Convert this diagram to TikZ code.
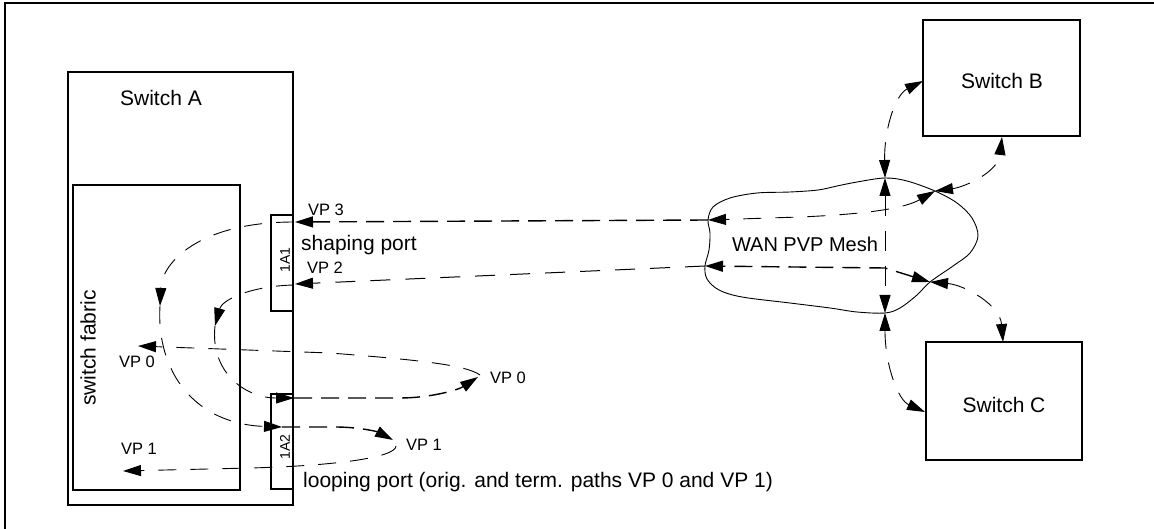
\documentclass[tikz,border=0pt]{standalone}
\usepackage{fontspec}
\setmainfont{Liberation Sans}
\usetikzlibrary{arrows.meta}
\begin{document}
\begin{tikzpicture}[x=1pt,y=-1pt,
  box/.style={draw,line width=1.4pt,inner sep=0pt,outer sep=0pt},
  lbl/.style={font=\fontsize{21}{24}\selectfont,inner sep=0pt},
  vplbl/.style={font=\fontsize{16.5}{19}\selectfont,inner sep=0pt},
  portlbl/.style={font=\fontsize{14}{16}\selectfont,inner sep=0pt,rotate=90},
  tipend/.style={-{Triangle[length=18pt,width=11pt]}},
  tipboth/.style={{Triangle[length=18pt,width=11pt]}-{Triangle[length=18pt,width=11pt]}},
  lightdash/.style={dash pattern=on 18pt off 14pt,line width=0.9pt},
  heavydash/.style={dash pattern=on 18pt off 9pt,line width=1.4pt},
  middash/.style={dash pattern=on 20pt off 15pt,line width=1pt},
]
\useasboundingbox (0,0) rectangle (1154,529);
% outer frame (only top and left visible)
\draw[line width=1.3pt] (5,529) -- (5,3) -- (1154,3);

% boxes
\node[box,anchor=north west,minimum width=225pt,minimum height=433pt] (swA) at (68,72) {};
\node[box,anchor=north west,minimum width=167pt,minimum height=305pt] (fab) at (73,185) {};
\node[box,anchor=north west,minimum width=22pt,minimum height=96pt] (p1) at (271,215) {};
\node[box,anchor=north west,minimum width=22pt,minimum height=95pt] (p2) at (271,394) {};
\node[box,anchor=north west,minimum width=157pt,minimum height=116pt] (swB) at (923,20) {};
\node[box,anchor=north west,minimum width=156pt,minimum height=118pt] (swC) at (926,342) {};

% texts
\node[lbl] (tA) at (161,98) {Switch A};
\node[lbl,rotate=90] (tfab) at (88,348) {switch fabric};
\node[portlbl] (t1A1) at (285,260) {1A1};
\node[portlbl] (t1A2) at (285,447) {1A2};
\node[lbl,anchor=west] (tshape) at (301,245) {shaping port};
\node[lbl,anchor=west] (tloop) at (303,482) {looping port (orig. and term. paths VP 0 and VP 1)};
\node[vplbl] (tvp3) at (326,210) {VP 3};
\node[vplbl] (tvp2) at (325,268) {VP 2};
\node[vplbl] (tvp0l) at (137,362) {VP 0};
\node[vplbl] (tvp0r) at (508,378) {VP 0};
\node[vplbl] (tvp1l) at (139,449) {VP 1};
\node[vplbl] (tvp1r) at (424,445) {VP 1};
\node[lbl,font=\fontsize{20}{23}\selectfont] (twan) at (805,244) {WAN PVP Mesh};
\node[lbl] (tB) at (1002,81) {Switch B};
\node[lbl] (tC) at (1004,405) {Switch C};

% cloud key points
\coordinate (cT) at (885,178);
\coordinate (cB) at (885,313);
\coordinate (cL3) at (708,220);
\coordinate (cL2) at (705,266);
\coordinate (cR3) at (935,191);
\coordinate (cR2) at (930,282);
\coordinate (cJ) at (885,268);

\draw[line width=0.9pt] plot[smooth cycle,tension=0.55] coordinates {
 (885,178) (907,181) (935,191) (957,203) (972,218) (978,236) (970,253)
 (953,266) (930,282) (917,295) (900,308) (885,313) (857,312) (830,308)
 (790,303) (742,297) (719,290) (707,279) (705,266) (709,250) (710,233)
 (708,220) (713,207) (730,198) (757,193) (790,192) (818,190) (837,186) (857,182)};

% endpoints on switches / ports
\coordinate (sBL) at (923,81);
\coordinate (sBB) at (1002,137);
\coordinate (sCT) at (1003,342);
\coordinate (sCL) at (925,412);
\coordinate (vp3tip) at (295,222);
\coordinate (vp2tip) at (295,284);

% WAN side connectors
\draw[lightdash,tipboth] (cT) .. controls (884,130) and (895,95) .. (sBL);
\draw[lightdash,tipboth] (cR3) .. controls (965,187) and (998,172) .. (sBB);
\draw[lightdash,tipboth] (cR2) .. controls (965,285) and (1000,305) .. (sCT);
\draw[lightdash,tipboth] (cB) .. controls (885,365) and (898,400) .. (sCL);
\draw[middash,tipboth] (cT) -- (cB);
\draw[lightdash,tipboth] (cR3) .. controls (905,208) and (870,214) .. (800,217) -- (cL3);
\draw[heavydash,tipboth] (cR2) -- (cJ) -- (cL2);
\draw[heavydash,tipend] (cL3) -- (vp3tip);
\draw[middash,tipend] (cL2) -- (vp2tip);

% switch fabric paths
\coordinate (a0) at (294,222);
\coordinate (a1) at (160,306);
\coordinate (a2) at (282,427);
\coordinate (a3) at (393,440);
\coordinate (a4) at (396,446);
\coordinate (a5) at (123,471);
\coordinate (b0) at (294,285);
\coordinate (b1) at (215,326);
\coordinate (b2) at (294,398);
\coordinate (b3) at (478,377);
\coordinate (b4) at (480,375);
\coordinate (b5) at (138,346);

\draw[lightdash,tipend] (a0) .. controls (200,222) and (162,262) .. (a1);
\draw[lightdash,tipend] (a1) .. controls (156,372) and (195,424) .. (a2);
\draw[heavydash,tipend] (a2) -- (335,427) .. controls (360,427) and (378,432) .. (a3);
\draw[lightdash,tipend] (a4) .. controls (396,458) and (330,466) .. (250,468) -- (a5);
\draw[lightdash,tipend] (b0) .. controls (250,286) and (222,300) .. (b1);
\draw[lightdash,tipend] (b1) .. controls (210,372) and (245,398) .. (b2);
\draw[heavydash,tipend] (b2) -- (400,398) .. controls (430,398) and (458,390) .. (b3);
\draw[lightdash,tipend] (b4) .. controls (466,365) and (420,360) .. (330,353) -- (b5);
\end{tikzpicture}
\end{document}
